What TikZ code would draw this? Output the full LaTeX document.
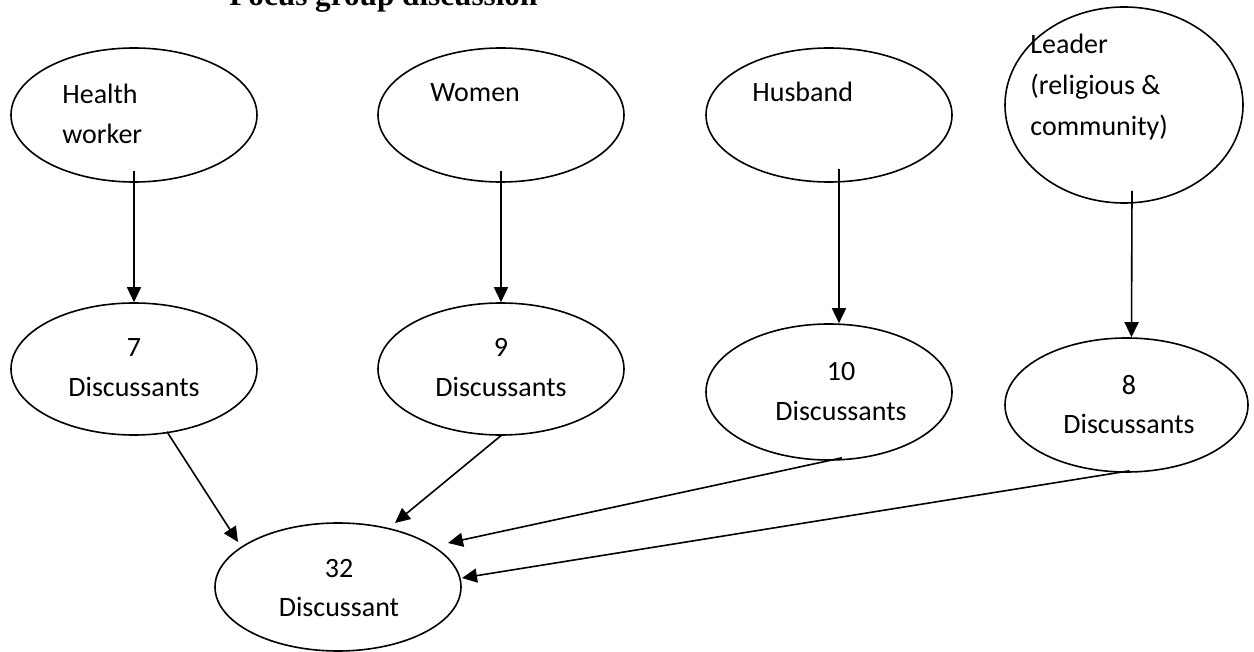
\documentclass[tikz,border=0pt]{standalone}
\usepackage{fontspec}
\setmainfont{Carlito}
\newfontfamily\titlefont{Liberation Serif}
\usetikzlibrary{shapes.geometric,arrows.meta,calc}
\begin{document}
\begin{tikzpicture}[x=0.5pt,y=-0.5pt,
  oval/.style={draw, ellipse, line width=0.8pt, inner sep=0pt},
  lbl/.style={font=\fontsize{14}{20}\selectfont, inner sep=0pt},
  ttl/.style={font=\titlefont\bfseries\fontsize{15.6}{18}\selectfont, inner sep=0pt},
  arr/.style={-{Triangle[length=7.5pt,width=7pt]}, line width=0.8pt}]
\useasboundingbox (0,0) rectangle (1254,652);
% title
\node[ttl, anchor=base west] (title) at (229,6) {Focus group discussion};
% top row
\node[oval, minimum width=123pt, minimum height=67pt] (hw) at (134,115) {};
\node[oval, minimum width=123pt, minimum height=67pt] (wo) at (501,115) {};
\node[oval, minimum width=123pt, minimum height=67pt] (hu) at (829,115) {};
\node[oval, minimum width=119pt, minimum height=98pt] (le) at (1124,105) {};
% second row
\node[oval, minimum width=123pt, minimum height=66pt] (s7) at (134,369) {};
\node[oval, minimum width=123pt, minimum height=66pt] (s9) at (501,369) {};
\node[oval, minimum width=123pt, minimum height=68pt] (s10) at (829,392) {};
\node[oval, minimum width=121.5pt, minimum height=67pt] (s8) at (1126.5,405) {};
% bottom
\node[oval, minimum width=123pt, minimum height=64pt] (d32) at (338,587) {};
% texts
\node[lbl, anchor=base west] (t1a) at (62,104) {Health};
\node[lbl, anchor=base west] (t1b) at (62,144) {worker};
\node[lbl, anchor=base west] (t2) at (430,102) {Women};
\node[lbl, anchor=base west] (t3) at (752,102) {Husband};
\node[lbl, anchor=base west] (t4a) at (1030,54) {Leader};
\node[lbl, anchor=base west] (t4b) at (1030,95) {(religious \&};
\node[lbl, anchor=base west] (t4c) at (1030,136) {community)};
\node[lbl, anchor=base] (n7a) at (134,357) {7};
\node[lbl, anchor=base] (n7b) at (134,397) {Discussants};
\node[lbl, anchor=base] (n9a) at (501,357) {9};
\node[lbl, anchor=base] (n9b) at (501,397) {Discussants};
\node[lbl, anchor=base] (n10a) at (841,381) {10};
\node[lbl, anchor=base] (n10b) at (841,421) {Discussants};
\node[lbl, anchor=base] (n8a) at (1129,394) {8};
\node[lbl, anchor=base] (n8b) at (1129,434) {Discussants};
\node[lbl, anchor=base] (n32a) at (339,577) {32};
\node[lbl, anchor=base] (n32b) at (339,616) {Discussant};
% vertical arrows
\draw[arr] ($(hw.south)+(0,-12)$) -- (s7.north);
\draw[arr] ($(wo.south)+(0,-12)$) -- (s9.north);
\draw[arr] ($(hu.south)+(10,-14)$) -- ($(s10.north)+(10,0)$);
\draw[arr] ($(le.south)+(8,-13)$) -- ($(s8.north)+(5,0)$);
% converging arrows
\draw[arr] ($(s7.south)+(33,-4)$) -- ($(d32.center)+(-100,-45)$);
\draw[arr] ($(s9.south)+(1,-1)$) -- ($(d32.center)+(57,-64)$);
\draw[arr] ($(s10.south)+(13,-3)$) -- ($(d32.center)+(110,-44)$);
\draw[arr] ($(s8.south)+(3,-2)$) -- ($(d32.center)+(124,-9)$);
\end{tikzpicture}
\end{document}
